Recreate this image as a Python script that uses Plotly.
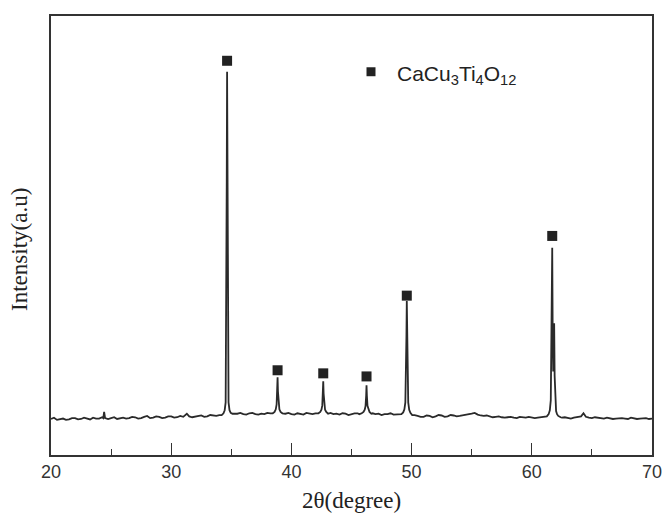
import plotly.graph_objects as go

# ---- data ----
# baseline (2theta, intensity a.u.)
base_x = [20.0, 20.5, 21.0, 21.5, 22.0, 22.5, 23.0, 23.5, 24.0, 25.0, 25.5, 26.0, 26.5,
          27.0, 27.5, 28.0, 28.5, 29.0, 29.5, 30.0, 30.5, 31.0, 31.3, 31.5, 32.0, 32.5,
          33.0, 33.5, 34.0, 35.5, 36.0, 36.5, 37.0, 37.5, 38.0, 39.5, 40.0, 40.5, 41.0,
          41.5, 42.0, 43.5, 44.0, 44.5, 45.0, 45.5, 47.0, 47.5, 48.0, 48.5, 49.0, 50.5,
          51.0, 51.5, 52.0, 52.5, 53.0, 53.5, 54.0, 54.5, 55.0, 55.5, 56.0, 56.5, 57.0,
          57.5, 58.0, 58.5, 59.0, 59.5, 60.0, 60.5, 61.0, 62.5, 63.0, 63.5, 64.0, 64.3,
          64.5, 65.0, 65.5, 66.0, 66.5, 67.0, 67.5, 68.0, 68.5, 69.0, 69.5, 70.0]
base_y = [8.2, 8.0, 8.3, 8.1, 8.4, 8.2, 8.3, 8.5, 8.3, 8.4, 8.2, 8.5, 8.4,
          8.6, 8.4, 8.9, 8.5, 8.7, 8.5, 8.8, 8.6, 8.7, 9.4, 8.8, 8.7, 9.0,
          8.8, 9.0, 9.1, 9.4, 9.3, 9.5, 9.3, 9.4, 9.6, 9.4, 9.3, 9.5, 9.2,
          9.4, 9.5, 9.3, 9.2, 9.4, 9.3, 9.5, 9.3, 9.1, 9.3, 9.2, 9.4, 8.9,
          8.7, 8.9, 8.8, 9.0, 8.8, 9.0, 8.9, 9.1, 9.4, 9.2, 8.9, 8.8, 8.7,
          8.6, 8.6, 8.5, 8.7, 8.5, 8.6, 8.5, 8.7, 8.5, 8.4, 8.5, 8.6, 9.5,
          8.7, 8.4, 8.5, 8.3, 8.4, 8.3, 8.4, 8.2, 8.4, 8.3, 8.4, 8.3]

# baseline noise between the half-degree points
noise_x = [20.25, 20.75, 21.25, 21.75, 22.25, 22.75, 23.25, 23.75, 24.25, 24.75, 25.25, 25.75,
           26.25, 26.75, 27.25, 27.75, 28.25, 28.75, 29.25, 29.75, 30.25, 30.75, 31.75, 32.25,
           32.75, 33.25, 33.75, 35.75, 36.25, 36.75, 37.25, 37.75, 38.25, 39.75, 40.25, 40.75,
           41.25, 41.75, 43.25, 43.75, 44.25, 44.75, 45.25, 45.65, 46.75, 47.25, 47.75, 48.25,
           48.75, 50.25, 50.75, 51.25, 51.75, 52.25, 52.75, 53.25, 53.75, 54.25, 54.75, 55.25,
           55.75, 56.25, 56.75, 57.25, 57.75, 58.25, 58.75, 59.25, 59.75, 60.25, 60.75, 62.75,
           63.25, 63.75, 64.1, 64.75, 65.25, 65.75, 66.25, 66.75, 67.25, 67.75, 68.25, 68.75,
           69.25, 69.75]
noise_y = [8.5, 8.1, 8.0, 8.4, 8.1, 8.5, 8.1, 8.3, 8.6, 8.2, 8.6, 8.3,
           8.3, 8.7, 8.3, 8.7, 8.4, 8.8, 8.4, 8.8, 8.5, 8.9, 8.6, 8.9,
           8.7, 9.1, 8.9, 9.6, 9.2, 9.6, 9.2, 9.3, 9.5, 9.6, 9.2, 9.3,
           9.6, 9.3, 9.6, 9.4, 9.5, 9.1, 9.5, 9.3, 9.5, 9.4, 9.3, 9.5,
           9.3, 9.1, 8.7, 9.0, 8.6, 9.1, 8.7, 9.1, 8.8, 9.0, 9.3, 9.6,
           9.0, 9.0, 8.6, 8.8, 8.5, 8.7, 8.4, 8.6, 8.7, 8.4, 8.6, 8.6,
           8.3, 8.6, 8.8, 8.5, 8.6, 8.3, 8.5, 8.2, 8.4, 8.3, 8.5, 8.2,
           8.4, 8.2]

# diffraction peaks (profile points)
peak_x = [24.35, 24.42, 24.5,
          34.2, 34.35, 34.45, 34.53, 34.59, 34.62, 34.65, 34.68, 34.71, 34.77, 34.85, 34.95, 35.1,
          38.45, 38.6, 38.7, 38.77, 38.82, 38.85, 38.88, 38.93, 39.0, 39.1, 39.25,
          42.25, 42.4, 42.5, 42.57, 42.62, 42.65, 42.68, 42.73, 42.8, 42.9, 43.05,
          45.85, 46.0, 46.1, 46.17, 46.22, 46.25, 46.28, 46.33, 46.4, 46.5, 46.65,
          49.15, 49.3, 49.4, 49.48, 49.54, 49.57, 49.6, 49.63, 49.66, 49.72, 49.8, 49.9, 50.05,
          61.25, 61.4, 61.5, 61.58, 61.64, 61.67, 61.7, 61.74, 61.78, 61.82, 61.86, 61.9, 61.95,
          62.02, 62.1, 62.2, 62.4]
peak_y = [8.4, 9.8, 8.4,
          9.1, 9.5, 10.2, 12.0, 32.0, 62.0, 87.3, 62.0, 32.0, 12.0, 10.2, 9.6, 9.4,
          9.5, 9.8, 10.4, 11.5, 14.5, 17.7, 14.5, 11.5, 10.4, 9.8, 9.5,
          9.5, 9.8, 10.3, 11.3, 14.0, 16.8, 14.0, 11.3, 10.3, 9.8, 9.4,
          9.5, 9.8, 10.3, 11.2, 13.5, 15.9, 13.5, 11.2, 10.3, 9.8, 9.4,
          9.3, 9.7, 10.4, 12.0, 19.0, 27.0, 35.1, 27.0, 19.0, 12.0, 10.3, 9.6, 9.1,
          8.8, 9.3, 10.2, 12.5, 24.0, 36.0, 47.2, 27.0, 19.0, 24.0, 30.0, 18.0, 11.5,
          10.0, 9.3, 8.9, 8.6]

# phase markers (CaCu3Ti4O12)
mark_x = [34.65, 38.85, 42.65, 46.25, 49.6, 61.7]
mark_y = [89.8, 19.3, 18.6, 17.9, 36.3, 49.9]

x_ticks = [20, 30, 40, 50, 60, 70]

# merge baseline, noise and peaks
pts = sorted(zip(base_x + noise_x + peak_x, base_y + noise_y + peak_y))
xs = [p[0] for p in pts]
ys = [p[1] for p in pts]

fig = go.Figure()
fig.add_trace(go.Scatter(x=xs, y=ys, mode="lines",
                         line=dict(color="#2a2a2a", width=1.8), showlegend=False,
                         hoverinfo="skip"))
fig.add_trace(go.Scatter(x=mark_x, y=mark_y, mode="markers",
                         marker=dict(symbol="square", size=10, color="#222222"),
                         showlegend=False))

# page has an 8px body margin; figure placed accordingly
OFF = 8
L, R, T, B = 51 - OFF, 652 - OFF, 14 - OFF, 455 - OFF
W, H = 672 - OFF, 522 - OFF
pw, ph = R - L, B - T
def px(x):
    return (x - OFF - L) / pw
def py(y):
    return (B - (y - OFF)) / ph

serif = "Liberation Serif, Times New Roman"
sans = "Liberation Sans, Arial"

# legend square and label
fig.add_shape(type="rect", xref="paper", yref="paper",
              x0=px(366.5), x1=px(375.5), y0=py(74.5), y1=py(65.5),
              fillcolor="#222222", line=dict(width=0))
fig.add_annotation(xref="paper", yref="paper", x=px(395), y=py(73),
                   xanchor="left", yanchor="middle", showarrow=False,
                   text="CaCu<sub>3</sub>Ti<sub>4</sub>O<sub>12</sub>",
                   font=dict(family=sans, size=21, color="#222222"))

# axis titles
fig.add_annotation(xref="paper", yref="paper", x=px(351), y=py(501),
                   xanchor="center", yanchor="middle", showarrow=False,
                   text="2θ(degree)", font=dict(family=serif, size=23, color="#222"))
fig.add_annotation(xref="paper", yref="paper", x=px(20), y=py(249),
                   xanchor="center", yanchor="middle", showarrow=False, textangle=-90,
                   text="Intensity(a.u)", font=dict(family=serif, size=23, color="#222"))

fig.update_layout(
    width=W, height=H,
    margin=dict(l=L, r=W - R, t=T, b=H - B),
    paper_bgcolor="white", plot_bgcolor="white",
    xaxis=dict(range=[20, 70], tickvals=x_ticks, ticktext=[str(v) for v in x_ticks],
               ticks="inside", ticklen=12, tickwidth=1.3, tickcolor="#333",
               minor=dict(dtick=5, tick0=0, ticks="inside", ticklen=6, tickwidth=1.2, tickcolor="#333"),
               showline=True, linecolor="#333", linewidth=1.6, mirror=True,
               showgrid=False, zeroline=False,
               tickfont=dict(family=sans, size=18, color="#333")),
    yaxis=dict(range=[0, 100], showticklabels=False, ticks="",
               showline=True, linecolor="#333", linewidth=1.6, mirror=True,
               showgrid=False, zeroline=False),
)

fig.write_html("out.html")
